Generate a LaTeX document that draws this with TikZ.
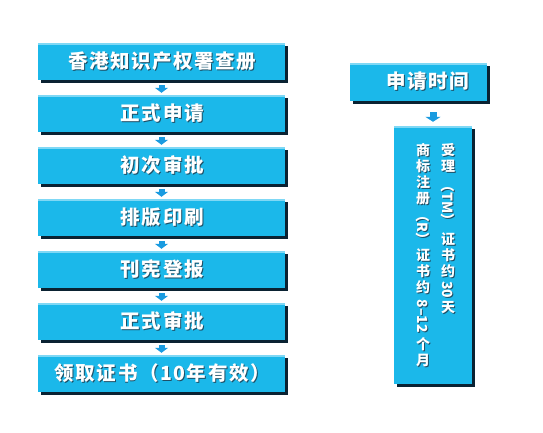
\documentclass[tikz,border=0pt]{standalone}
\usepackage{fontspec}
\setmainfont{Noto Sans CJK SC}
\usepackage{graphicx}
\usetikzlibrary{shadows,arrows.meta}
\definecolor{boxc}{HTML}{1BB8EA}
\definecolor{topc}{HTML}{7FD8F5}
\definecolor{shadc}{HTML}{0A2232}
\definecolor{arrc}{HTML}{1A9BE0}
\definecolor{tshad}{HTML}{1E4F66}
\newcommand\stx[1]{\leavevmode\rlap{\kern1pt\raisebox{-1pt}{\textcolor{tshad}{#1}}}#1}
\newcommand\ch[1]{\raisebox{0pt}[13pt][3pt]{#1}\cr}
\newcommand\rt[2]{\vbox{\kern#1\hbox{\rotatebox{-90}{#2}}\kern#1}\cr}
\newcommand\vcol[1]{\vbox{\offinterlineskip\halign{\hfil##\hfil\cr#1}}}
\newcommand\colA{\vcol{\ch{受}\ch{理}\rt{4pt}{（TM）}\ch{证}\ch{书}\ch{约}\rt{1.5pt}{30}\ch{天}}}
\newcommand\colB{\vcol{\ch{商}\ch{标}\ch{注}\ch{册}\rt{1.5pt}{（R）}\ch{证}\ch{书}\ch{约}\rt{4pt}{8–12}\ch{个}\ch{月}}}
\tikzset{
  boxstyle/.style={fill=boxc, text=white, inner sep=0pt,
    font=\fontsize{19.5}{23}\selectfont\bfseries\addfontfeatures{LetterSpace=8},
    general shadow={fill=shadc, shadow xshift=3pt, shadow yshift=-3pt},
    path picture={\fill[topc] (path picture bounding box.north west) rectangle ([yshift=-2pt]path picture bounding box.north east);}},
  lbox/.style={boxstyle, minimum width=247pt, minimum height=37pt},
  arr/.style={draw=arrc, line width=6pt, -{Triangle[width=13pt,length=5pt]}, shorten <=5pt, shorten >=2pt},
  coltext/.style={anchor=north, inner sep=0pt, text=white, font=\fontsize{14}{16}\selectfont\bfseries},
}
\begin{document}
\begin{tikzpicture}[x=1pt,y=-1pt]
\useasboundingbox[fill=white] (0,0) rectangle (543,432);
\node[lbox] (b1) at (161.5,61.5) {\hspace*{1.5pt}\stx{香港知识产权署查册}};
\node[lbox] (b2) at (161.5,113.5) {\hspace*{1.5pt}\stx{正式申请}};
\node[lbox] (b3) at (161.5,165.5) {\hspace*{1.5pt}\stx{初次审批}};
\node[lbox] (b4) at (161.5,217.5) {\hspace*{1.5pt}\stx{排版印刷}};
\node[lbox] (b5) at (161.5,269.5) {\hspace*{1.5pt}\stx{刊宪登报}};
\node[lbox] (b6) at (161.5,321.5) {\hspace*{1.5pt}\stx{正式审批}};
\node[lbox] (b7) at (161.5,373.5) {\hspace*{1.5pt}\stx{领取证书（10年有效）}};
\foreach \a/\b in {b1/b2,b2/b3,b3/b4,b4/b5,b5/b6,b6/b7}
  \draw[arr] (\a) -- (\b);
\node[boxstyle, minimum width=137pt, minimum height=38pt] (t) at (418.5,82) {\hspace*{19pt}\stx{申请时间}};
\node[boxstyle, minimum width=78pt, minimum height=258pt] (v) at (433,255) {};
\draw[arr, -{Triangle[width=15pt,length=5pt]}, line width=7pt, shorten <=11pt, shorten >=4pt] (t.south -| v.north) -- (v.north);
\node[coltext, text=tshad] (c1s) at (449,143.5) {\colA};
\node[coltext] (c1) at (448,142.5) {\colA};
\node[coltext, text=tshad] (c2s) at (424,143.5) {\colB};
\node[coltext] (c2) at (423,142.5) {\colB};
\end{tikzpicture}
\end{document}
